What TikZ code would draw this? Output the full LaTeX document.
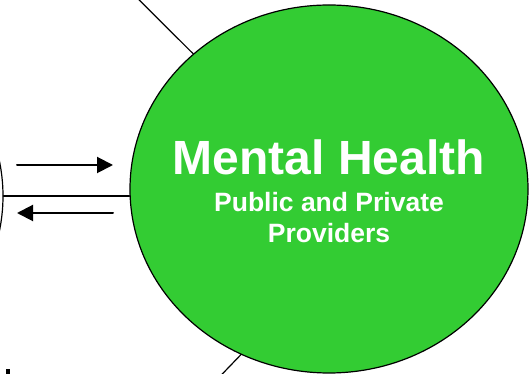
\documentclass[tikz,border=0pt]{standalone}
\usepackage{fontspec}
\setmainfont{Liberation Sans}
\usepackage{tikz}
\usetikzlibrary{arrows.meta,shapes.geometric}
\definecolor{ttcctt}{rgb}{0.2,0.8,0.2}

\begin{document}
\begin{tikzpicture}[line cap=round,line join=round,>={Triangle[length=16pt,width=16pt]},x=1pt,y=1pt,
  bubble/.style={ellipse,draw=black,line width=1.2pt,minimum width=398pt,minimum height=368pt,inner sep=0pt},
  flow/.style={->,line width=2pt},
  spoke/.style={line width=1.2pt},
  bigtext/.style={text=white,font=\bfseries\fontsize{48}{52}\selectfont,inner sep=0pt},
  smalltext/.style={text=white,font=\bfseries\fontsize{26.5}{31}\selectfont,align=center,inner sep=0pt}]
\useasboundingbox (0,0) rectangle (529,374);
\clip (0,0) rectangle (529,374);
\coordinate (topc) at (100,413);
\coordinate (botc) at (203,-20);
\node [bubble,fill=white] (prev) at (-196,178) {};
\node [bubble,fill=ttcctt] (mh) at (329,185) {};
\draw [spoke] (mh) -- (topc);
\draw [spoke] (mh.242) -- (botc);
\draw [line width=2pt] (prev.east) -- (prev.east -| mh.west);
% arrows between the two
\coordinate (a1) at (17,209);
\coordinate (a2) at (113,209);
\coordinate (b1) at (113,161);
\coordinate (b2) at (17,161);
\draw [flow] (a1) -- (a2);
\draw [flow] (b1) -- (b2);
\node [bigtext,anchor=base] (title) at (329,199) {Mental Health};
\node [smalltext,anchor=base] (sub) at (329,131) {Public and Private\\Providers};
\fill (6,0) rectangle (10,5);
\end{tikzpicture}
\end{document}
